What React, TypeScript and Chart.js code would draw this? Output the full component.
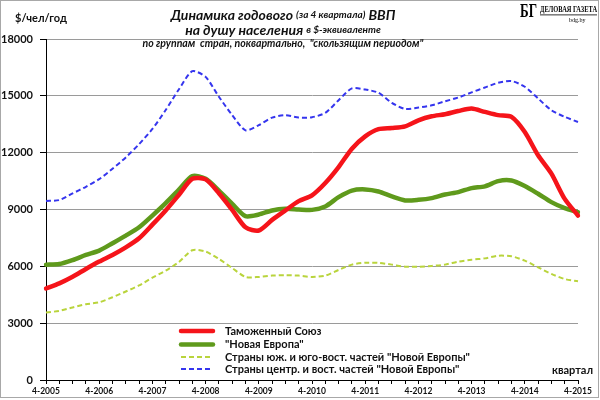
import React, { useEffect, useRef } from "react";
import { Chart, registerables } from "chart.js";

Chart.register(...registerables);

const yearLabels = ["4-2005", "4-2006", "4-2007", "4-2008", "4-2009", "4-2010", "4-2011", "4-2012", "4-2013", "4-2014", "4-2015"];

// quarterly categories: 4-2005 ... 4-2015
const categories: string[] = [];
for (let i = 0; i < 41; i++) {
  const q = ((i + 3) % 4) + 1;
  const y = 2005 + Math.floor((i + 3) / 4);
  categories.push(`${q}-${y}`);
}

const customsUnion = [4830, 5100, 5450, 5860, 6250, 6600, 7000, 7480, 8200, 8950, 9780, 10620, 10590, 9860, 8980, 8060, 7890, 8450, 8950, 9440, 9750, 10400, 11240, 12210, 12860, 13240, 13300, 13390, 13710, 13920, 14030, 14200, 14330, 14150, 13980, 13890, 13090, 11860, 10890, 9560, 8680];
const newEurope = [6090, 6120, 6330, 6600, 6830, 7220, 7620, 8060, 8680, 9335, 10050, 10760, 10620, 10000, 9300, 8650, 8735, 8950, 9035, 9000, 8980, 9160, 9650, 10000, 10060, 9950, 9690, 9480, 9510, 9600, 9790, 9920, 10130, 10220, 10500, 10530, 10240, 9830, 9390, 9070, 8860];
const southEast = [3560, 3650, 3830, 4000, 4100, 4370, 4670, 4990, 5400, 5770, 6230, 6850, 6780, 6390, 5910, 5440, 5440, 5510, 5530, 5510, 5440, 5510, 5810, 6090, 6190, 6180, 6090, 5980, 5980, 6020, 6090, 6250, 6350, 6420, 6560, 6530, 6300, 5950, 5600, 5330, 5210];
const centralEast = [9450, 9500, 9850, 10200, 10600, 11150, 11750, 12450, 13250, 14250, 15350, 16300, 16000, 14950, 13980, 13180, 13450, 13850, 13980, 13850, 13870, 14100, 14770, 15390, 15335, 15160, 14630, 14310, 14380, 14500, 14710, 14910, 15180, 15440, 15690, 15780, 15480, 14860, 14240, 13890, 13620];

const seriesNames = [
  "Таможенный Союз",
  "\"Новая Европа\"",
  "Страны юж. и юго-вост. частей \"Новой Европы\"",
  "Страны центр. и вост. частей \"Новой Европы\"",
];

const RED = "#f5141a";
const GREEN = "#5f9a1c";
const LIGHT = "#b9d43c";
const BLUE = "#3535ee";

const F = "Lato, 'Open Sans', sans-serif";

function drawRuns(ctx: CanvasRenderingContext2D, runs: [string, string][], cx: number, y: number) {
  let total = 0;
  for (const [t, f] of runs) {
    ctx.font = f;
    total += ctx.measureText(t).width;
  }
  let x = cx - total / 2;
  ctx.textAlign = "left";
  for (const [t, f] of runs) {
    ctx.font = f;
    ctx.fillText(t, x, y);
    x += ctx.measureText(t).width;
  }
}

const decorPlugin = {
  id: "decor",
  beforeDraw(chart: any) {
    const ctx = chart.ctx;
    ctx.save();
    ctx.fillStyle = "#fff";
    ctx.fillRect(0, 0, chart.width, chart.height);
    ctx.restore();
  },
  afterDraw(chart: any) {
    const ctx: CanvasRenderingContext2D = chart.ctx;
    ctx.save();
    ctx.textBaseline = "middle";
    ctx.fillStyle = "#111";

    // unit label
    ctx.font = `bold 11px ${F}`;
    ctx.textAlign = "left";
    ctx.fillText("$/чел/год", 15, 18);

    // titles
    const big = `italic bold 14px ${F}`;
    const small = `italic bold 10px ${F}`;
    drawRuns(ctx, [["Динамика годового ", big], ["(за 4 квартала)", small], [" ВВП", big]], 283, 15);
    drawRuns(ctx, [["на душу населения ", big], ["в $-эквиваленте", small]], 283, 30);
    drawRuns(ctx, [["по группам  стран, поквартально,  \"скользящим периодом\"", `italic bold 10.5px ${F}`]], 283, 44);

    // logo
    ctx.fillStyle = "#000";
    ctx.textAlign = "left";
    ctx.font = `bold 18px 'Liberation Serif', serif`;
    ctx.fillText("БГ", 520, 12, 17);
    ctx.font = `bold 8px 'Liberation Serif', serif`;
    ctx.fillText("ДЕЛОВАЯ ГАЗЕТА", 540, 10, 57);
    ctx.fillRect(540, 14.5, 57, 0.8);
    ctx.font = `6px 'Liberation Serif', serif`;
    ctx.fillText("bdg.by", 569, 20.5);

    // legend
    const rows = [331, 344.5, 357, 369];
    const styles = [
      { c: RED, w: 4.5, d: [] as number[] },
      { c: GREEN, w: 4.5, d: [] as number[] },
      { c: LIGHT, w: 2, d: [5, 3] },
      { c: BLUE, w: 2, d: [5, 3] },
    ];
    rows.forEach((y, k) => {
      ctx.beginPath();
      ctx.strokeStyle = styles[k].c;
      ctx.lineWidth = styles[k].w;
      ctx.setLineDash(styles[k].d);
      ctx.lineCap = styles[k].d.length ? "butt" : "round";
      ctx.moveTo(181, y);
      ctx.lineTo(213, y);
      ctx.stroke();
      ctx.setLineDash([]);
      ctx.fillStyle = "#111";
      ctx.font = `bold 11px ${F}`;
      ctx.textAlign = "left";
      ctx.fillText(seriesNames[k], 225, y);
    });

    // axis title
    ctx.font = `bold 11px ${F}`;
    ctx.textAlign = "right";
    ctx.fillText("квартал", 593, 370);

    // frame
    ctx.strokeStyle = "#a8a8a8";
    ctx.lineWidth = 1;
    ctx.strokeRect(0.5, 0.5, 598, 397);
    ctx.restore();
  },
};

export default function App() {
  const ref = useRef<HTMLCanvasElement | null>(null);
  useEffect(() => {
    if (!ref.current) return;
    const chart = new Chart(ref.current, {
      type: "line",
      data: {
        labels: categories,
        datasets: [
          { label: seriesNames[0], data: customsUnion, borderColor: RED, borderWidth: 4.5, borderCapStyle: "round", borderJoinStyle: "round" },
          { label: seriesNames[1], data: newEurope, borderColor: GREEN, borderWidth: 4.5, borderCapStyle: "round", borderJoinStyle: "round" },
          { label: seriesNames[2], data: southEast, borderColor: LIGHT, borderWidth: 2, borderDash: [5, 3] },
          { label: seriesNames[3], data: centralEast, borderColor: BLUE, borderWidth: 2, borderDash: [5, 3] },
        ],
      },
      options: {
        animation: false,
        responsive: false,
        devicePixelRatio: 1,
        layout: { padding: { top: 39, right: 22, left: 0, bottom: 0 } },
        elements: { point: { radius: 0 }, line: { tension: 0.25, fill: false } },
        plugins: { legend: { display: false }, tooltip: { enabled: false }, title: { display: false } },
        scales: {
          x: {
            type: "category",
            offset: false,
            afterFit: (s: any) => { s.height = 20; },
            grid: { display: true, drawOnChartArea: false, drawTicks: true, tickLength: 4, tickColor: "#000", color: "#000" },
            border: { display: true, color: "#000", width: 1 },
            ticks: {
              autoSkip: false,
              maxRotation: 0,
              minRotation: 0,
              padding: 2,
              color: "#111",
              font: { family: F, size: 8.5, weight: "bold" },
              callback: (_v: any, i: number) => (i % 4 === 0 ? yearLabels[i / 4] : ""),
            },
          },
          y: {
            min: 0,
            max: 18000,
            afterFit: (s: any) => { s.width = 46; },
            grid: { color: "#9a9a9a", lineWidth: 1, tickLength: 6, tickColor: "#000", drawTicks: true },
            border: { display: true, color: "#000", width: 1 },
            ticks: {
              stepSize: 3000,
              padding: 7,
              color: "#111",
              font: { family: F, size: 11, weight: "bold" },
              callback: (v: any) => String(v),
            },
          },
        },
      },
      plugins: [decorPlugin],
    });
    return () => chart.destroy();
  }, []);
  return (
    <div style={{ position: "absolute", left: 0, top: 0, width: 600, height: 400, background: "#fff" }}>
      <canvas ref={ref} width={600} height={400} style={{ display: "block" }} />
    </div>
  );
}
